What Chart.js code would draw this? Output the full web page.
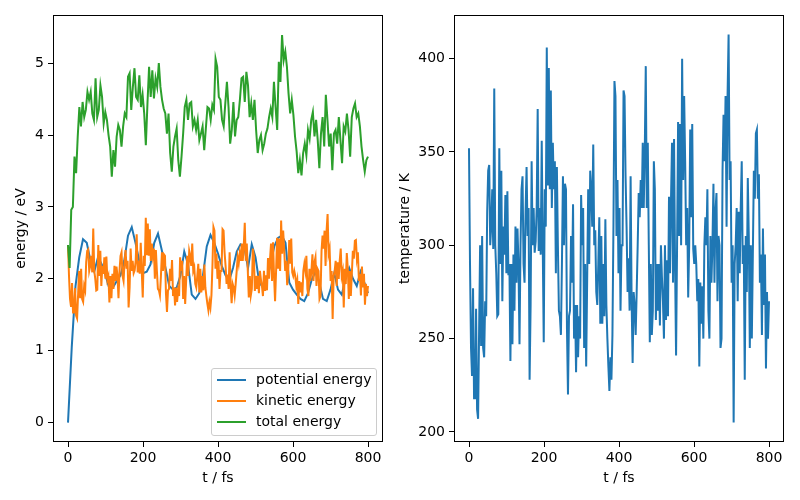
<!DOCTYPE html>
<html>
<head>
<meta charset="utf-8">
<script src="https://cdn.jsdelivr.net/npm/chart.js@4.4.0/dist/chart.umd.min.js"></script>
<style>
  html, body { margin: 0; padding: 0; background: #ffffff; }
  #wrap { position: relative; width: 800px; height: 500px; overflow: hidden; background: #fff; }
  canvas { position: absolute; top: 0; }
  #legend { position: absolute; left: 211px; top: 368px; width: 164px; height: 66px;
    border: 1px solid #cccccc; border-radius: 3px; background: rgba(255,255,255,0.8);
    font-family: 'DejaVu Sans', sans-serif; font-size: 14px; color: #000; }
  .lrow { position: absolute; left: 0; height: 20px; width: 164px; }
  .lline { position: absolute; left: 5px; width: 29px; height: 2px; top: 9px; }
  .ltext { position: absolute; left: 44px; top: 1px; line-height: 16px; white-space: nowrap; }
</style>
</head>
<body>
<div id="wrap">
  <canvas id="energyChart" width="400" height="500" style="left:0px"></canvas>
  <canvas id="tempChart" width="405" height="500" style="left:395px"></canvas>
  <div id="legend"></div>
</div>
<script>
// ---------------- data ----------------
const xTicks = [0, 200, 400, 600, 800];
const energyTicks = [0, 1, 2, 3, 4, 5];
const tempTicks = [200, 250, 300, 350, 400];
const seriesLabels = ['potential energy', 'kinetic energy', 'total energy'];

// potential energy, every 10 fs from 0 to 800 fs
const potentialStep = 10;
const potentialEnergy = [
  0.00, 1.05, 1.90, 2.30, 2.55, 2.50, 2.25, 2.10, 2.30, 2.20,
  2.05, 1.87, 1.88, 1.97, 2.05, 2.25, 2.60, 2.72, 2.50, 2.25,
  2.08, 2.10, 2.20, 2.50, 2.63, 2.40, 2.15, 1.90, 1.85, 1.88,
  2.05, 2.38, 2.20, 1.78, 1.72, 1.80, 2.05, 2.45, 2.61, 2.50,
  2.35, 2.18, 2.05, 1.98, 2.15, 2.38, 2.48, 2.45, 2.15, 2.48,
  2.30, 1.95, 1.88, 1.98, 2.20, 2.45, 2.57, 2.60, 2.50, 1.95,
  1.85, 1.78, 1.72, 1.69, 1.80, 1.99, 2.10, 1.95, 1.72, 1.69,
  1.85, 2.08, 1.85, 1.78, 2.00, 2.15, 2.00, 1.90, 2.10, 1.95, 1.80
];

// kinetic energy, evenly sampled over 0..800 fs
const kineticEnergy = [
  2.47, 2.04, 1.72, 1.61, 1.94, 1.53, 1.53, 1.87, 1.49, 1.45, 1.78, 2.11, 1.73, 2.14, 1.72, 1.68, 1.90, 1.84, 2.23, 2.39,
  2.41, 2.11, 2.18, 2.32, 2.09, 2.70, 2.11, 2.00, 1.84, 1.85, 2.47, 2.04, 2.39, 1.90, 2.18, 2.07, 2.30, 2.00, 2.31, 1.99,
  2.04, 1.67, 2.04, 1.73, 2.07, 1.86, 2.18, 1.97, 2.17, 2.04, 1.73, 2.11, 2.32, 2.37, 2.04, 1.97, 2.23, 2.40, 2.14, 2.25,
  1.60, 1.88, 2.42, 2.11, 2.25, 2.08, 2.12, 2.25, 2.62, 2.09, 2.25, 2.07, 2.50, 2.11, 1.74, 2.32, 2.18, 2.85, 2.33, 2.77,
  2.32, 2.69, 2.25, 2.49, 2.32, 2.42, 2.00, 2.40, 2.11, 1.86, 1.84, 1.77, 2.04, 2.37, 2.11, 2.34, 2.32, 1.79, 1.54, 1.84,
  1.86, 2.14, 1.97, 2.26, 1.76, 1.88, 1.63, 1.88, 1.68, 1.84, 1.76, 2.30, 2.11, 2.25, 1.72, 2.04, 1.65, 1.98, 2.32, 2.04,
  2.39, 2.32, 2.18, 2.49, 2.11, 2.16, 1.93, 1.88, 2.04, 2.21, 1.81, 2.14, 1.81, 2.04, 1.84, 2.20, 1.88, 1.76, 1.65, 1.56,
  1.68, 1.60, 1.77, 2.18, 2.72, 2.67, 2.14, 2.35, 2.00, 2.25, 1.86, 2.11, 2.11, 2.69, 2.67, 2.37, 2.18, 1.93, 2.06, 1.86,
  2.37, 1.90, 1.66, 1.93, 1.88, 1.77, 1.93, 2.11, 2.30, 2.21, 2.35, 2.25, 2.49, 2.25, 2.46, 2.78, 2.25, 2.49, 2.11, 1.74,
  2.04, 1.77, 1.86, 2.42, 2.32, 1.83, 2.04, 1.86, 2.04, 1.80, 2.11, 1.99, 1.90, 1.76, 2.11, 1.83, 2.05, 1.84, 2.29, 2.00,
  2.28, 2.49, 1.97, 2.51, 2.04, 1.69, 2.11, 2.57, 2.14, 2.56, 2.11, 2.81, 2.35, 2.67, 2.42, 2.11, 2.25, 1.91, 2.11, 2.54,
  2.21, 2.56, 2.09, 2.04, 2.11, 2.04, 1.90, 1.98, 1.65, 1.97, 1.81, 1.95, 1.76, 2.11, 2.21, 2.11, 2.32, 1.86, 1.76, 2.14,
  1.97, 2.11, 2.34, 1.97, 2.23, 2.30, 1.90, 2.14, 2.11, 1.72, 1.76, 2.39, 2.60, 2.42, 2.67, 2.18, 2.67, 2.90, 2.35, 2.42,
  1.97, 2.11, 1.44, 2.04, 2.11, 2.25, 1.90, 2.23, 2.00, 2.25, 2.42, 2.04, 2.11, 1.60, 2.14, 1.93, 2.36, 2.14, 1.72, 2.11,
  1.76, 2.07, 2.39, 2.28, 2.53, 2.54, 2.28, 2.37, 1.97, 2.07, 1.77, 2.17, 1.88, 2.07, 1.64, 1.93, 1.76, 1.90
];

// total energy, evenly sampled over 0..800 fs
const totalEnergy = [
  2.47, 2.15, 2.96, 3.00, 3.70, 3.47, 3.98, 4.39, 4.12, 4.46, 4.25, 4.35, 4.60, 4.49, 4.60, 4.30, 4.21, 4.79, 4.25, 4.35,
  4.69, 4.53, 4.16, 4.32, 4.21, 4.00, 3.84, 3.42, 3.79, 3.56, 3.98, 4.14, 4.07, 3.84, 4.12, 4.30, 4.25, 4.81, 4.86, 4.35,
  4.67, 4.93, 4.53, 4.49, 4.83, 4.39, 4.56, 4.30, 3.86, 4.44, 4.95, 4.53, 4.90, 4.51, 4.79, 4.67, 5.00, 4.67, 4.49, 4.37,
  4.30, 4.02, 4.30, 3.75, 3.49, 3.84, 3.98, 4.09, 3.65, 3.42, 3.70, 4.02, 4.39, 4.49, 4.21, 4.44, 4.46, 4.12, 4.21, 4.07,
  4.21, 3.93, 4.02, 4.12, 3.79, 4.09, 4.39, 4.37, 4.21, 4.42, 4.35, 5.06, 4.95, 4.53, 4.49, 4.21, 4.12, 4.44, 4.74, 4.39,
  3.88, 4.07, 4.46, 3.98, 4.21, 4.25, 4.49, 4.79, 4.81, 4.46, 4.88, 4.69, 4.25, 4.44, 4.21, 4.49, 4.07, 3.75, 3.93, 4.00,
  3.79, 3.88, 4.02, 4.09, 4.25, 4.37, 4.25, 4.74, 4.39, 4.07, 5.02, 4.74, 5.39, 5.04, 5.16, 4.95, 4.58, 4.30, 4.49, 4.28,
  3.98, 3.77, 3.47, 3.65, 3.44, 3.75, 3.88, 3.72, 4.07, 3.95, 4.21, 4.32, 3.98, 4.21, 3.93, 3.54, 4.02, 4.25, 3.84, 4.56,
  4.21, 3.84, 4.02, 3.51, 4.02, 4.07, 3.88, 4.25, 3.93, 3.61, 4.12, 4.05, 4.30, 4.07, 3.70, 4.25, 4.37, 4.44, 4.25, 4.30,
  4.12, 3.84, 3.65, 3.49, 3.65, 3.70
];

// temperature, evenly sampled over 0..800 fs
const temperature = [
  352, 290, 245, 230, 277, 218, 218, 266, 212, 207, 254, 300, 246, 305, 245, 240, 270, 262, 318, 340,
  343, 300, 310, 330, 298, 384, 300, 285, 262, 263, 352, 290, 340, 270, 310, 295, 327, 285, 329, 284,
  290, 238, 290, 247, 295, 265, 310, 280, 309, 290, 247, 300, 330, 337, 290, 280, 318, 342, 305, 320,
  228, 268, 345, 300, 320, 296, 302, 320, 373, 297, 320, 295, 356, 300, 248, 330, 310, 406, 332, 395,
  330, 383, 320, 355, 330, 345, 285, 342, 300, 265, 262, 252, 290, 337, 300, 333, 330, 255, 220, 262,
  265, 305, 280, 322, 250, 268, 232, 268, 240, 262, 250, 327, 300, 320, 245, 290, 235, 282, 330, 290,
  340, 330, 310, 354, 300, 308, 275, 268, 290, 315, 258, 305, 258, 290, 262, 314, 268, 250, 235, 222,
  240, 228, 252, 310, 388, 380, 305, 335, 285, 320, 265, 300, 300, 383, 380, 337, 310, 275, 293, 265,
  337, 270, 237, 275, 268, 252, 275, 300, 328, 315, 335, 320, 355, 320, 350, 396, 320, 355, 300, 248,
  290, 252, 265, 345, 330, 260, 290, 265, 290, 257, 300, 283, 270, 250, 300, 260, 292, 262, 326, 285,
  325, 355, 280, 357, 290, 241, 300, 366, 305, 365, 300, 400, 335, 380, 345, 300, 320, 272, 300, 362,
  315, 365, 298, 290, 300, 290, 270, 282, 235, 280, 258, 278, 250, 300, 315, 300, 330, 265, 250, 305,
  280, 300, 333, 280, 318, 328, 270, 305, 300, 245, 250, 340, 370, 345, 380, 310, 381, 413, 335, 345,
  280, 300, 205, 290, 300, 320, 270, 318, 285, 320, 345, 290, 300, 228, 305, 275, 336, 305, 245, 300,
  250, 295, 340, 325, 360, 362, 325, 338, 280, 295, 252, 309, 268, 295, 234, 275, 250, 270
];

const tEnd = 800;
const colors = ['#1f77b4', '#ff7f0e', '#2ca02c'];

// ---------------- helpers ----------------
function toPoints(values, step) {
  const dt = step !== undefined ? step : tEnd / (values.length - 1);
  return values.map((v, i) => ({ x: i * dt, y: v }));
}

Chart.defaults.font.family = "'DejaVu Sans', sans-serif";
Chart.defaults.font.size = 14;
Chart.defaults.color = '#000';

const framePlugin = {
  id: 'frame',
  afterDraw(chart) {
    const { ctx, chartArea: a } = chart;
    ctx.save();
    ctx.strokeStyle = '#000';
    ctx.lineWidth = 1;
    ctx.strokeRect(Math.round(a.left) + 0.5, Math.round(a.top) + 0.5,
                   Math.round(a.right - a.left) - 1, Math.round(a.bottom - a.top) - 1);
    ctx.restore();
  }
};

function xScale(titlePadBottom) {
  return {
    type: 'linear', min: -40, max: 840,
    afterBuildTicks: s => { s.ticks = xTicks.map(v => ({ value: v })); },
    afterFit: s => { s.height = 58; },
    grid: { display: true, drawOnChartArea: false, drawTicks: true, tickLength: 5, color: '#000', lineWidth: 1 },
    border: { display: false },
    ticks: { autoSkip: false, maxRotation: 0, padding: 3, color: '#000', font: { size: 14 } },
    title: { display: true, text: 't / fs', color: '#000', font: { size: 14, lineHeight: 1.2 },
             padding: { top: 0, bottom: titlePadBottom } }
  };
}

function yScale(min, max, tickVals, width, title, titlePadTop) {
  return {
    type: 'linear', min: min, max: max,
    afterBuildTicks: s => { s.ticks = tickVals.map(v => ({ value: v })); },
    afterFit: s => { s.width = width; },
    grid: { display: true, drawOnChartArea: false, drawTicks: true, tickLength: 5, color: '#000', lineWidth: 1 },
    border: { display: false },
    ticks: { autoSkip: false, padding: 4, color: '#000', font: { size: 14 } },
    title: { display: true, text: title, color: '#000', font: { size: 14, lineHeight: 1.2 },
             padding: { top: titlePadTop, bottom: 0 } }
  };
}

const lineBase = { pointRadius: 0, borderWidth: 2, tension: 0, fill: false };

// ---------------- energy chart ----------------
new Chart(document.getElementById('energyChart'), {
  type: 'line',
  data: {
    datasets: [
      Object.assign({ label: seriesLabels[0], data: toPoints(potentialEnergy, potentialStep), borderColor: colors[0], order: 3 }, lineBase),
      Object.assign({ label: seriesLabels[1], data: toPoints(kineticEnergy), borderColor: colors[1], order: 2 }, lineBase),
      Object.assign({ label: seriesLabels[2], data: toPoints(totalEnergy), borderColor: colors[2], order: 1 }, lineBase)
    ]
  },
  options: {
    responsive: false, animation: false, devicePixelRatio: 1,
    parsing: false, normalized: true,
    layout: { padding: { top: 15, right: 17, left: 0, bottom: 0 } },
    plugins: { legend: { display: false }, tooltip: { enabled: false } },
    scales: {
      x: xScale(13.6),
      y: yScale(-0.27, 5.67, energyTicks, 53, 'energy / eV', 12.6)
    }
  },
  plugins: [framePlugin]
});

// ---------------- temperature chart ----------------
new Chart(document.getElementById('tempChart'), {
  type: 'line',
  data: {
    datasets: [
      Object.assign({ label: 'temperature', data: toPoints(temperature), borderColor: colors[0] }, lineBase)
    ]
  },
  options: {
    responsive: false, animation: false, devicePixelRatio: 1,
    parsing: false, normalized: true,
    layout: { padding: { top: 15, right: 16, left: 0, bottom: 0 } },
    plugins: { legend: { display: false }, tooltip: { enabled: false } },
    scales: {
      x: xScale(13.6),
      y: yScale(194.6, 423.4, tempTicks, 59, 'temperature / K', 1.6)
    }
  },
  plugins: [framePlugin]
});

// ---------------- legend (HTML) ----------------
const legend = document.getElementById('legend');
seriesLabels.forEach((lab, i) => {
  const row = document.createElement('div');
  row.className = 'lrow';
  row.style.top = (1 + i * 20.8) + 'px';
  const ln = document.createElement('div');
  ln.className = 'lline';
  ln.style.background = colors[i];
  const tx = document.createElement('div');
  tx.className = 'ltext';
  tx.textContent = lab;
  row.appendChild(ln);
  row.appendChild(tx);
  legend.appendChild(row);
});
</script>
</body>
</html>
